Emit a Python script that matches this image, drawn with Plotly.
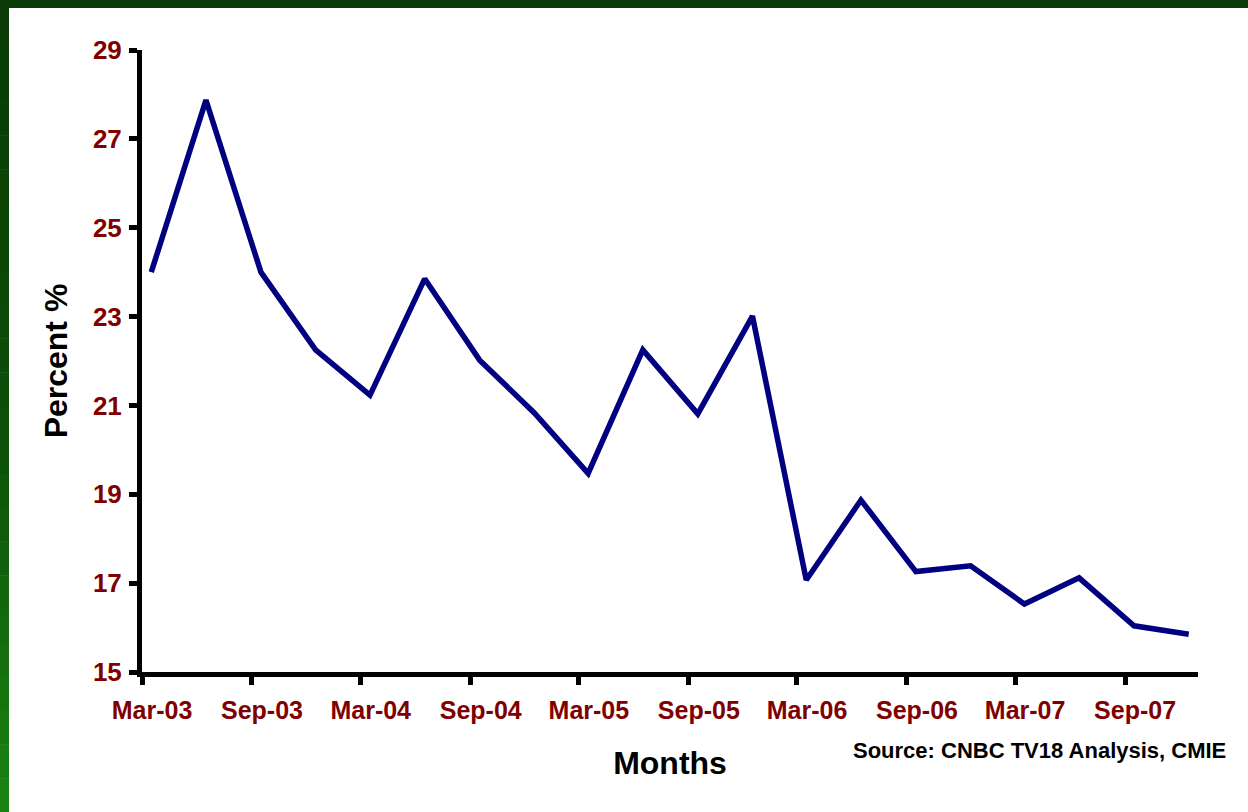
import plotly.graph_objects as go

# Quarterly series, Mar-03 to Dec-07 (percent)
quarters = [
    "2003-03-01", "2003-06-01", "2003-09-01", "2003-12-01",
    "2004-03-01", "2004-06-01", "2004-09-01", "2004-12-01",
    "2005-03-01", "2005-06-01", "2005-09-01", "2005-12-01",
    "2006-03-01", "2006-06-01", "2006-09-01", "2006-12-01",
    "2007-03-01", "2007-06-01", "2007-09-01", "2007-12-01",
]
percent = [
    24.0, 27.87, 24.0, 22.25,
    21.23, 23.85, 22.02, 20.83,
    19.47, 22.25, 20.81, 23.01,
    17.07, 18.87, 17.26, 17.39,
    16.53, 17.12, 16.04, 15.85,
]

tick_dates = [
    "2003-03-01", "2003-09-01", "2004-03-01", "2004-09-01",
    "2005-03-01", "2005-09-01", "2006-03-01", "2006-09-01",
    "2007-03-01", "2007-09-01",
]
tick_labels = [
    "Mar-03", "Sep-03", "Mar-04", "Sep-04", "Mar-05",
    "Sep-05", "Mar-06", "Sep-06", "Mar-07", "Sep-07",
]
y_ticks = [15, 17, 19, 21, 23, 25, 27, 29]

W, H = 1248, 812
ML, MR, MT, MB = 142, 50, 50, 140
PW, PH = W - ML - MR, H - MT - MB


def px(x):
    return (x - ML) / PW


def py(y):
    return (H - MB - y) / PH


FONT = "Arial, Liberation Sans, sans-serif"
LABEL_RED = "#800000"

fig = go.Figure()
fig.add_trace(go.Scatter(
    x=quarters, y=percent,
    xperiod="M1", xperiodalignment="middle",
    mode="lines",
    line=dict(color="#000080", width=5.5),
    hoverinfo="x+y",
))

# Green frame along the top and left edges of the slide
shapes = [dict(type="rect", xref="paper", yref="paper",
               x0=px(0), x1=px(W), y0=py(8), y1=py(0),
               fillcolor="#0b3b07", line=dict(width=0), layer="below")]
top_rgb = (10, 58, 6)
mid_rgb = (12, 80, 8)
bot_rgb = (26, 130, 18)
n_seg = 24
for i in range(n_seg):
    t = i / (n_seg - 1)
    if t < 0.55:
        f = t / 0.55
        c = [round(a + (b - a) * f) for a, b in zip(top_rgb, mid_rgb)]
    else:
        f = (t - 0.55) / 0.45
        c = [round(a + (b - a) * f) for a, b in zip(mid_rgb, bot_rgb)]
    y0 = H * i / n_seg
    y1 = H * (i + 1) / n_seg
    shapes.append(dict(type="rect", xref="paper", yref="paper",
                       x0=px(0), x1=px(9), y0=py(y1 + 0.5), y1=py(y0),
                       fillcolor="rgb(%d,%d,%d)" % tuple(c),
                       line=dict(width=0), layer="below"))

fig.update_layout(
    width=W, height=H,
    margin=dict(l=ML, r=MR, t=MT, b=MB),
    paper_bgcolor="white",
    plot_bgcolor="white",
    showlegend=False,
    shapes=shapes,
    font=dict(family=FONT),
    xaxis=dict(
        type="date",
        range=["2003-03-01", "2008-01-01"],
        tickvals=tick_dates,
        ticktext=tick_labels,
        ticks="outside", ticklen=8, tickwidth=5, tickcolor="black",
        ticklabelshift=10, ticklabelstandoff=4,
        tickfont=dict(family=FONT, size=25, color=LABEL_RED, weight="bold"),
        showline=True, linecolor="black", linewidth=5,
        showgrid=False, zeroline=False,
        title=dict(text="<b>Months</b>", standoff=30,
                   font=dict(family=FONT, size=32, color="black")),
    ),
    yaxis=dict(
        range=[15, 29],
        tickvals=y_ticks,
        ticks="outside", ticklen=8, tickwidth=5, tickcolor="black",
        ticklabelstandoff=2,
        tickfont=dict(family=FONT, size=26, color=LABEL_RED, weight="bold"),
        showline=True, linecolor="black", linewidth=5,
        showgrid=False, zeroline=False,
        title=dict(text="<b>Percent %</b>", standoff=17,
                   font=dict(family=FONT, size=32, color="black")),
    ),
    annotations=[dict(
        text="<b>Source: CNBC TV18 Analysis, CMIE</b>",
        xref="paper", yref="paper",
        x=px(1228), y=py(750), xanchor="right", yanchor="middle",
        showarrow=False,
        font=dict(family=FONT, size=22, color="black"),
    )],
)

fig.write_html("out.html")
